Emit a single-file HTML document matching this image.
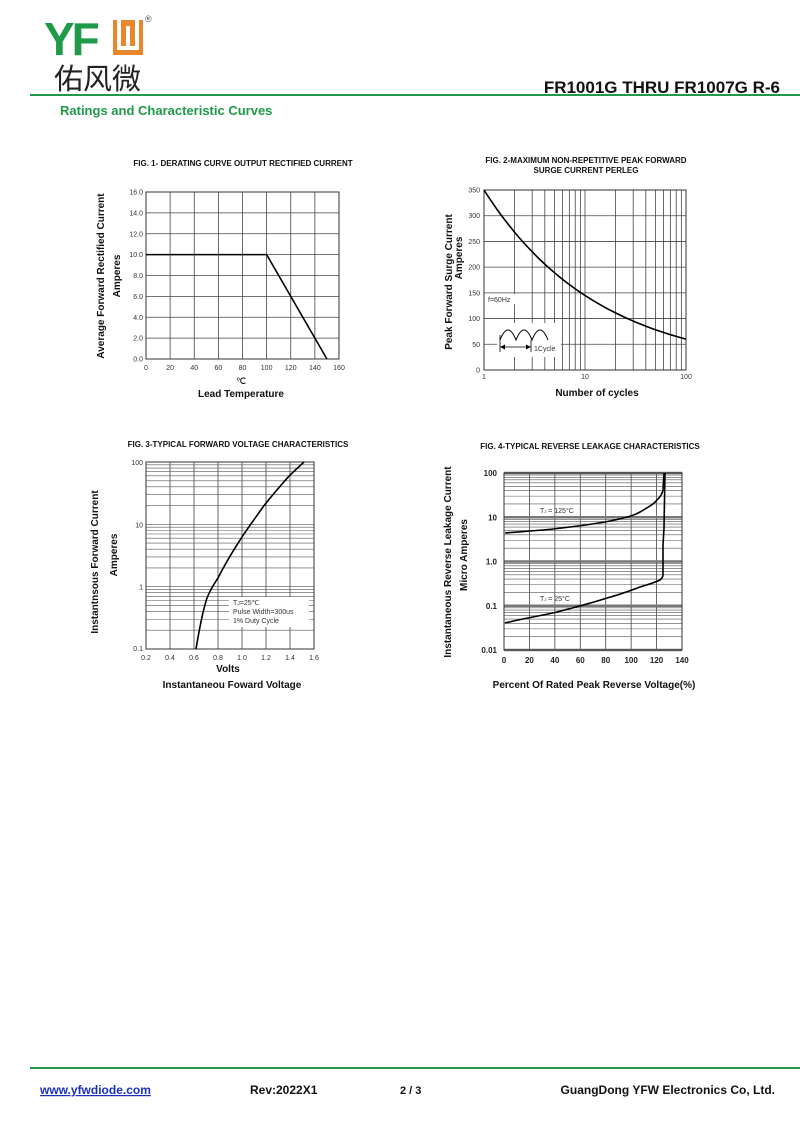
<!DOCTYPE html>
<html><head><meta charset="utf-8"><style>
body{margin:0;background:#fff;}
svg{display:block;font-family:"Liberation Sans",Arial,sans-serif;}
.t{font-size:7px;fill:#333}
.b{font-weight:bold;fill:#111}
</style></head><body>
<svg id="s" width="800" height="1130" viewBox="0 0 800 1130" xmlns="http://www.w3.org/2000/svg">
<rect width="800" height="1130" fill="#fff"/>
<!-- header -->
<text x="44" y="55" font-size="46" font-weight="bold" fill="#1f9a48" letter-spacing="-3">YF</text>
<path d="M113 20 h30 v35 h-30 z" fill="#e8862c"/>
<path d="M119 20 v28 h18 v-28 M128 26 v22" stroke="#fff" stroke-width="4" fill="none"/>
<text x="145" y="22" font-size="9" fill="#555">®</text>
<text x="54" y="89" font-size="29" fill="#222" font-family="'Noto Sans CJK SC','WenQuanYi Zen Hei',sans-serif">佑风微</text>
<text x="780" y="93" font-size="17" font-weight="bold" text-anchor="end" fill="#111">FR1001G THRU FR1007G  R-6</text>
<rect x="30" y="94" width="770" height="2" fill="#1f9a48"/>
<text x="60" y="115" font-size="13" font-weight="bold" fill="#1f9a48">Ratings and  Characteristic Curves</text>
<!-- footer -->
<rect x="30" y="1067" width="770" height="2" fill="#1f9a48"/>
<text x="40" y="1094" font-size="12" font-weight="bold" fill="#1a2fbf" text-decoration="underline">www.yfwdiode.com</text>
<text x="250" y="1094" font-size="12" font-weight="bold" fill="#111">Rev:2022X1</text>
<text x="400" y="1094" font-size="11" font-weight="bold" fill="#111">2 / 3</text>
<text x="775" y="1094" font-size="12" font-weight="bold" fill="#111" text-anchor="end">GuangDong YFW Electronics Co, Ltd.</text>
<!-- titles -->
<text x="243" y="166" font-size="8" class="b" text-anchor="middle">FIG. 1- DERATING CURVE OUTPUT RECTIFIED CURRENT</text>
<text x="586" y="163" font-size="8" class="b" text-anchor="middle">FIG. 2-MAXIMUM NON-REPETITIVE PEAK FORWARD</text>
<text x="586" y="173" font-size="8" class="b" text-anchor="middle">SURGE CURRENT PERLEG</text>
<text x="238" y="447" font-size="8" class="b" text-anchor="middle">FIG. 3-TYPICAL FORWARD VOLTAGE CHARACTERISTICS</text>
<text x="590" y="449" font-size="8" class="b" text-anchor="middle">FIG. 4-TYPICAL REVERSE LEAKAGE CHARACTERISTICS</text>
<!-- axis labels -->
<text transform="translate(104,276) rotate(-90)" font-size="10" class="b" text-anchor="middle">Average Forward Rectified Current</text>
<text transform="translate(120,276) rotate(-90)" font-size="10" class="b" text-anchor="middle">Amperes</text>
<text x="241" y="384" font-size="9" text-anchor="middle">℃</text>
<text x="241" y="397" font-size="10" class="b" text-anchor="middle">Lead Temperature</text>
<text transform="translate(452,282) rotate(-90)" font-size="10" class="b" text-anchor="middle">Peak Forward Surge Current</text>
<text transform="translate(462,258) rotate(-90)" font-size="10" class="b" text-anchor="middle">Amperes</text>
<text x="597" y="396" font-size="10" class="b" text-anchor="middle">Number of cycles</text>
<text transform="translate(98,562) rotate(-90)" font-size="10" class="b" text-anchor="middle">Instantnsous Forward Current</text>
<text transform="translate(117,555) rotate(-90)" font-size="10" class="b" text-anchor="middle">Amperes</text>
<text x="228" y="672" font-size="10" class="b" text-anchor="middle">Volts</text>
<text x="232" y="688" font-size="10" class="b" text-anchor="middle">Instantaneou Foward Voltage</text>
<text transform="translate(451,562) rotate(-90)" font-size="10" class="b" text-anchor="middle">Instantaneous Reverse Leakage Current</text>
<text transform="translate(467,555) rotate(-90)" font-size="10" class="b" text-anchor="middle">Micro Amperes</text>
<text x="594" y="688" font-size="10" class="b" text-anchor="middle">Percent Of Rated Peak Reverse Voltage(%)</text>
<g id="g"></g>
</svg>
<script>
var g=document.getElementById('g'),h='';
function L(x1,y1,x2,y2,c,w){h+='<line x1="'+x1+'" y1="'+y1+'" x2="'+x2+'" y2="'+y2+'" stroke="'+(c||'#444')+'" stroke-width="'+(w||0.8)+'"/>';}
function T(x,y,s,a,f){h+='<text x="'+x+'" y="'+y+'" class="t" text-anchor="'+(a||'end')+'"'+(f?' font-size="'+f+'"':'')+'>'+s+'</text>';}
function R(x,y,w,hh){h+='<rect x="'+x+'" y="'+y+'" width="'+w+'" height="'+hh+'" fill="none" stroke="#333" stroke-width="1"/>';}
function P(d,w){h+='<path d="'+d+'" fill="none" stroke="#000" stroke-width="'+(w||1.6)+'"/>';}
// Fig1
var l=146,r=339,t=192,b=359;
for(var i=0;i<=8;i++){var x=l+(r-l)*i/8;L(x,t,x,b);T(x,370,i*20,'middle');var y=b-(b-t)*i/8;L(l,y,r,y);T(l-3,y+2.5,(i*2).toFixed(1));}
R(l,t,r-l,b-t);
var y10=b-(b-t)*10/16;P('M'+l+' '+y10+' L'+(l+(r-l)*100/160)+' '+y10+' L'+(l+(r-l)*150/160)+' '+b);
// Fig2
l=484;r=686;t=190;b=370;var dw=(r-l)/2;
for(var d=0;d<2;d++)for(var k=1;k<=9;k++){var x=l+dw*(d+Math.log10(k));L(x,t,x,b);}
for(i=0;i<=7;i++){var y=b-(b-t)*i/7;L(l,y,r,y);T(l-4,y+2.5,i*50);}
T(l,379,'1','middle',6);T(l+dw,379,'10','middle',6);T(r,379,'100','middle',6);
R(l,t,r-l,b-t);
h+='<rect x="497" y="323" width="64" height="34" fill="#fff"/>';
h+='<rect x="486" y="294" width="32" height="10" fill="#fff"/>';
T(488,302,'f=60Hz','start');
P('M500 340 Q508 320 516 340 Q524 320 532 340 Q540 320 548 340',1);
P('M500 335 V352 M531 340 V352 M502 347 H529',0.8);
h+='<path d="M500 347 l5 -2.5 v5z M531 347 l-5 -2.5 v5z" fill="#000"/>';
T(534,351,'1Cycle','start');
var dd='';for(var n=1;n<=100;n*=1.1){var x=l+dw*Math.log10(n),y=b-(b-t)*350*Math.pow(n,-0.383)/350;dd+=(dd?'L':'M')+x.toFixed(1)+' '+y.toFixed(1);}
dd+='L'+r+' '+(b-(b-t)*60/350).toFixed(1);P(dd);
// Fig3
l=146;r=314;t=462;b=649;var dh=(b-t)/3;
for(i=0;i<=7;i++){var x=l+(r-l)*i/7;L(x,t,x,b);T(x,660,(0.2+0.2*i).toFixed(1),'middle');}
for(d=0;d<3;d++)for(k=1;k<=9;k++){var y=b-dh*(d+Math.log10(k));L(l,y,r,y,'#555',0.6);}
T(l-3,b+2,'0.1');T(l-3,b-dh+3,'1');T(l-3,b-2*dh+3,'10');T(l-3,t+3,'100');
R(l,t,r-l,b-t);
h+='<rect x="229" y="597" width="80" height="30" fill="#fff"/>';
T(233,605,'T<tspan font-size="5">J</tspan>=25℃','start');T(233,614,'Pulse Width=300us','start');T(233,623,'1% Duty Cycle','start');
P('M196 649 C200 625 203 610 207 598 C211 588 214 584 218 578 C228 558 235 548 242 537 C250 525 256 517 263 507 C273 494 282 484 290 475 L304 462');
// Fig4
l=504;r=682;t=473;b=650;dh=(b-t)/4;
for(i=0;i<=7;i++){var x=l+(r-l)*i/7;L(x,t,x,b);h+='<text x="'+x+'" y="663" font-size="8" font-weight="bold" text-anchor="middle" fill="#222">'+(i*20)+'</text>';}
for(d=0;d<4;d++)for(k=1;k<=9;k++){var y=b-dh*(d+Math.log10(k));L(l,y,r,y,k==1?'#777':'#555',k==1?2.5:0.6);}
L(l,t,r,t,'#777',2.5);
var lab=['0.01','0.1','1.0','10','100'];for(i=0;i<5;i++)h+='<text x="'+(l-7)+'" y="'+(b-dh*i+3)+'" font-size="8" font-weight="bold" text-anchor="end" fill="#222">'+lab[i]+'</text>';
R(l,t,r-l,b-t);
T(540,513,'T<tspan font-size="4">J</tspan> = 125°C','start',6);T(540,601,'T<tspan font-size="4">J</tspan> = 25°C','start',6);
P('M505 533 C530 531 545 530 553 529 C580 526 595 524 610 521 C625 518 633 516 640 512 C650 506 654 504 657 500 C661 496 662 494 663 490 L664 473');
P('M505 623 C530 617 545 615 557 612 C580 606 595 602 607 598 C622 594 632 590 640 587 C650 584 656 582 660 580 C662 578 663 577 663 575 L663 545 L664 528 L665 473');
g.innerHTML=h;
</script>
</body></html>
